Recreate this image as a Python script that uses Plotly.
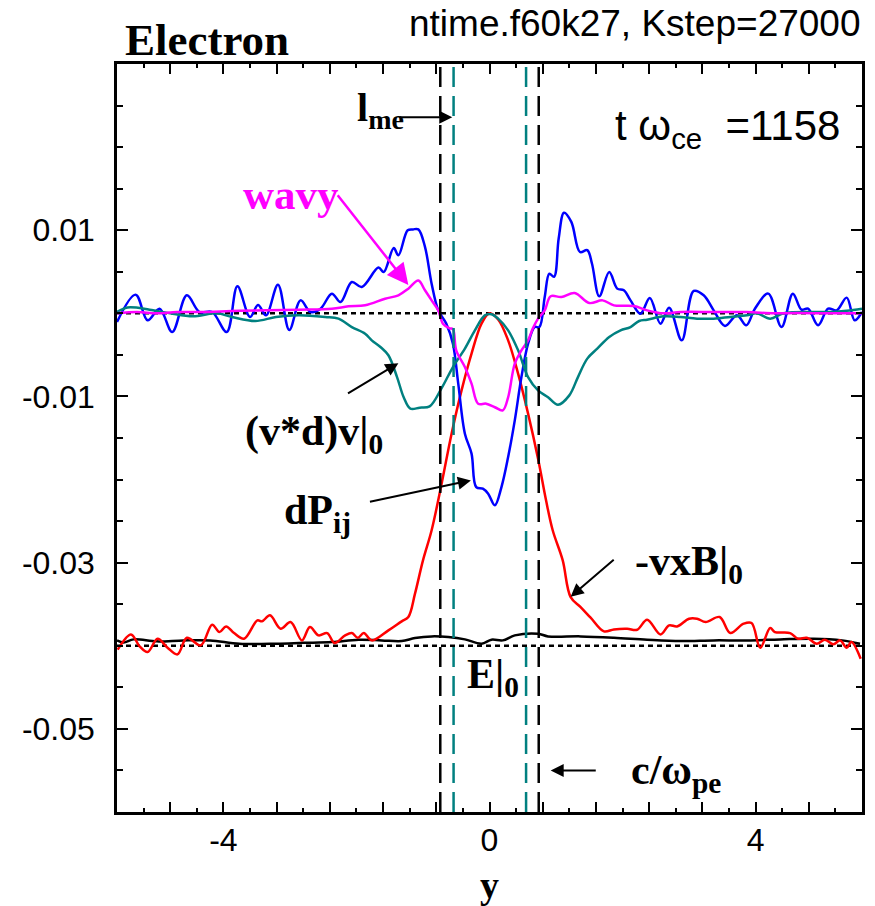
import numpy as np
import plotly.graph_objects as go

# ---- profiles across the current sheet (electron momentum balance terms) ----
x_dp = [-5.60, -5.32, -5.14, -4.96, -4.77, -4.55, -4.36, -4.17, -3.95, -3.79, -3.60, -3.48,
        -3.36, -3.18, -3.01, -2.84, -2.69, -2.54, -2.37, -2.24, -2.07, -1.92, -1.67, -1.59,
        -1.44, -1.37, -1.23, -1.15, -1.07, -0.97, -0.87, -0.77, -0.65, -0.55, -0.47, -0.37,
        -0.27, -0.20, -0.10, -0.02, 0.08, 0.18, 0.28, 0.38, 0.48, 0.58, 0.68, 0.75, 0.83,
        0.90, 0.97, 1.04, 1.12, 1.23, 1.36, 1.47, 1.54, 1.65, 1.80, 1.92, 2.02, 2.12, 2.27,
        2.41, 2.57, 2.70, 2.89, 3.07, 3.22, 3.37, 3.54, 3.72, 3.86, 3.99, 4.19, 4.39, 4.56,
        4.69, 4.79, 4.94, 5.09, 5.22, 5.37, 5.49, 5.60]
dP_ij = [-0.00105, 0.00225, -0.00084, 0.00056, -0.00225, 0.00217, 0.00016, 0.00016, -0.00225,
         0.00325, -0.00044, 0.00100, -0.00024, 0.00345, -0.00200, 0.00156, 0.00016, 0.00056,
         0.00237, 0.00136, 0.00377, 0.00317, 0.00550, 0.00497, 0.00786, 0.00698, 0.00999,
         0.01010, 0.01010, 0.00800, 0.00357, 0.00036, -0.00124, -0.00365, -0.00846, -0.01448,
         -0.01688, -0.02090, -0.02110, -0.02170, -0.02310, -0.02090, -0.01730, -0.01288,
         -0.00767, -0.00365, -0.00165, -0.00165, 0.00196, 0.00477, 0.00440, 0.00900, 0.01210,
         0.01100, 0.00738, 0.00760, 0.00600, 0.00205, 0.00497, 0.00297, 0.00277, 0.00156,
         -0.00004, 0.00184, -0.00124, 0.00068, -0.00325, 0.00269, 0.00217, 0.00036, -0.00152,
         -0.00024, -0.00144, 0.00056, 0.00237, -0.00165, 0.00237, 0.00044, 0.00056, -0.00144,
         0.00056, 0.00036, 0.00189, -0.00084, 0.00016]

x_wavy = [-5.60, -5.30, -5.00, -4.70, -4.36, -3.76, -2.87, -2.37, -2.12, -1.87, -1.57, -1.37,
          -1.22, -1.07, -0.97, -0.87, -0.77, -0.70, -0.60, -0.55, -0.50, -0.37, -0.27, -0.17,
          -0.05, 0.08, 0.20, 0.28, 0.38, 0.48, 0.58, 0.65, 0.73, 0.83, 0.92, 1.08, 1.28, 1.50,
          1.70, 1.87, 2.17, 2.37, 2.62, 2.87, 3.37, 3.87, 4.27, 4.62, 5.12, 5.60]
wavy = [0.0, 0.00016, 0.0, 0.00016, 0.00016, 0.00030, 0.00044, 0.00056, 0.00084, 0.00096,
        0.00176, 0.00217, 0.00297, 0.00395, 0.00277, 0.00156, 0.00036, -0.00124, -0.00180,
        -0.00190, -0.00445, -0.00646, -0.00846, -0.01087, -0.01087, -0.01130, -0.01167,
        -0.01010, -0.00605, -0.00445, -0.00325, -0.00184, -0.00064, 0.00036, 0.00205, 0.00196,
        0.00245, 0.00124, 0.00156, 0.00096, 0.00088, 0.00036, 0.0, 0.00016, 0.00016, 0.00016,
        0.0, 0.00004, 0.0, 0.0]

x_vdv = [-5.60, -5.44, -5.11, -4.80, -4.46, -4.10, -3.87, -3.52, -3.21, -2.87, -2.47, -2.27,
         -2.07, -1.87, -1.77, -1.64, -1.52, -1.39, -1.29, -1.19, -1.05, -0.90, -0.72, -0.55,
         -0.37, -0.22, -0.07, 0.03, 0.13, 0.28, 0.43, 0.58, 0.73, 0.88, 1.03, 1.20, 1.33, 1.47,
         1.62, 1.80, 1.97, 2.12, 2.25, 2.37, 2.62, 2.87, 3.12, 3.37, 3.62, 3.87, 4.02, 4.22,
         4.42, 4.87, 5.12, 5.37, 5.60]
vdv = [0.00016, 0.00070, 0.00044, 0.0, -0.00036, 0.0, -0.00044, -0.00092, -0.00044, -0.00024,
       -0.00044, -0.00064, -0.00165, -0.00245, -0.00325, -0.00405, -0.00505, -0.00767, -0.01010,
       -0.01147, -0.01135, -0.01120, -0.00900, -0.00646, -0.00425, -0.00205, -0.00024, -0.00010,
       -0.00064, -0.00205, -0.00445, -0.00767, -0.00927, -0.01010, -0.01100, -0.00987, -0.00767,
       -0.00545, -0.00425, -0.00285, -0.00205, -0.00165, -0.00092, -0.00076, -0.00036, -0.00044,
       -0.00064, -0.00064, -0.00044, -0.00024, 0.0, -0.00064, 0.0, 0.00016, 0.00016, 0.00030,
       0.00056]

x_vxb = [-5.59, -5.39, -5.26, -5.14, -4.99, -4.84, -4.69, -4.55, -4.34, -4.17, -4.06, -3.96,
         -3.84, -3.69, -3.49, -3.42, -3.30, -3.14, -2.99, -2.82, -2.70, -2.57, -2.44, -2.33,
         -2.17, -2.07, -1.98, -1.89, -1.77, -1.52, -1.32, -1.22, -1.12, -1.00, -0.87, -0.72,
         -0.57, -0.42, -0.27, -0.12, 0.0, 0.13, 0.28, 0.43, 0.58, 0.73, 0.85, 0.95, 1.10, 1.22,
         1.37, 1.52, 1.72, 1.87, 2.07, 2.22, 2.37, 2.57, 2.70, 2.82, 3.00, 3.12, 3.25, 3.46,
         3.62, 3.82, 3.94, 4.07, 4.22, 4.29, 4.52, 4.64, 4.77, 4.92, 5.04, 5.17, 5.27, 5.37,
         5.44, 5.58]
vxB = [-0.04047, -0.03863, -0.04007, -0.04076, -0.03915, -0.04023, -0.04103, -0.03903, -0.03995,
       -0.03746, -0.03835, -0.03767, -0.03847, -0.03915, -0.03694, -0.03706, -0.03634, -0.03794,
       -0.03714, -0.03935, -0.03775, -0.03875, -0.03847, -0.03967, -0.03875, -0.03847, -0.03903,
       -0.03847, -0.03935, -0.03815, -0.03706, -0.03654, -0.03373, -0.02972, -0.02610, -0.02050,
       -0.01448, -0.00927, -0.00485, -0.00124, 0.0, -0.00074, -0.00325, -0.00726, -0.01207,
       -0.01750, -0.02250, -0.02610, -0.02970, -0.03414, -0.03534, -0.03662, -0.03827, -0.03803,
       -0.03795, -0.03807, -0.03686, -0.03863, -0.03754, -0.03767, -0.03674, -0.03674, -0.03714,
       -0.03654, -0.03847, -0.03734, -0.03726, -0.04023, -0.03787, -0.03835, -0.03847, -0.03915,
       -0.03903, -0.03975, -0.03927, -0.03983, -0.03935, -0.04023, -0.03955, -0.04155]

x_e = [-5.60, -5.50, -5.35, -5.00, -4.60, -4.20, -3.76, -3.20, -2.80, -2.37, -1.97, -1.62,
       -1.32, -1.12, -0.87, -0.62, -0.37, -0.12, 0.03, 0.20, 0.38, 0.73, 0.88, 1.37, 1.87, 2.37,
       2.87, 3.37, 3.87, 4.37, 4.87, 5.30, 5.57]
E0 = [-0.03935, -0.03960, -0.03923, -0.03947, -0.03935, -0.03935, -0.03975, -0.03975, -0.03965,
      -0.03955, -0.03927, -0.03935, -0.03943, -0.03907, -0.03887, -0.03895, -0.03923, -0.03975,
      -0.03927, -0.03935, -0.03875, -0.03855, -0.03887, -0.03887, -0.03903, -0.03927, -0.03943,
      -0.03935, -0.03935, -0.03923, -0.03915, -0.03935, -0.03975]

# reference levels and characteristic scales
zero_levels = [0.0, -0.04]
c_over_wpe = [-0.74, 0.74]
l_me = [-0.54, 0.55]

x_range = [-5.6, 5.6]
y_range = [-0.06, 0.03]
y_tickvals = [0.01, -0.01, -0.03, -0.05]
y_ticktext = ["0.01", "-0.01", "-0.03", "-0.05"]
x_labels = {-4.0: "-4", 0.0: "0", 4.0: "4"}

SANS = "Liberation Sans, Arial, sans-serif"
SERIF = "Liberation Serif, Times New Roman, serif"
TEAL = "#008080"

fig = go.Figure()

for lvl in zero_levels:
    fig.add_trace(go.Scatter(x=x_range, y=[lvl, lvl], mode="lines",
                             line=dict(color="black", width=2.5, dash="5px,4px"),
                             hoverinfo="skip"))

curves = [
    (x_e, E0, "black"),
    (x_vxb, vxB, "#ff0000"),
    (x_dp, dP_ij, "#0000ff"),
    (x_vdv, vdv, TEAL),
    (x_wavy, wavy, "#ff00ff"),
]
for xs, ys, col in curves:
    fig.add_trace(go.Scatter(x=xs, y=ys, mode="lines",
                             line=dict(color=col, width=2.5, shape="spline", smoothing=1.0),
                             hoverinfo="skip"))

for xv in c_over_wpe:
    fig.add_trace(go.Scatter(x=[xv, xv], y=y_range, mode="lines",
                             line=dict(color="black", width=2.5, dash="20px,9px"),
                             hoverinfo="skip"))
for xv in l_me:
    fig.add_trace(go.Scatter(x=[xv, xv], y=y_range, mode="lines",
                             line=dict(color=TEAL, width=2.5, dash="20px,9px"),
                             hoverinfo="skip"))

# x ticks every 0.8 (labelled only at -4, 0, 4) with minor ticks every 0.4
x_major = [round(-4.8 + 0.8 * i, 1) for i in range(13)]
x_text = [x_labels.get(v, "") for v in x_major]

fig.update_xaxes(range=x_range, showgrid=False, zeroline=False,
                 showline=True, linecolor="black", linewidth=2.5, mirror="allticks",
                 ticks="inside", ticklen=10, tickwidth=2, tickcolor="black",
                 tickvals=x_major, ticktext=x_text,
                 tickfont=dict(family=SANS, size=32, color="black"),
                 ticklabelstandoff=-2,
                 minor=dict(dtick=0.4, tick0=0, ticks="inside", ticklen=4,
                            tickwidth=2, tickcolor="black"))
fig.update_yaxes(range=y_range, showgrid=False, zeroline=False,
                 showline=True, linecolor="black", linewidth=2.5, mirror="allticks",
                 ticks="inside", ticklen=11, tickwidth=2, tickcolor="black",
                 tickvals=y_tickvals, ticktext=y_ticktext,
                 tickfont=dict(family=SANS, size=32, color="black"),
                 ticklabelstandoff=13,
                 minor=dict(dtick=0.005, tick0=0, ticks="inside", ticklen=6,
                            tickwidth=2, tickcolor="black"))

ann = []


def label(txt, x, y, size=42, color="black", family=SERIF, xanchor="left", bold=True, **kw):
    ann.append(dict(text=f"<b>{txt}</b>" if bold else txt, x=x, y=y, showarrow=False,
                    xanchor=xanchor, yanchor="middle",
                    font=dict(family=family, size=size, color=color), **kw))


def arrow(x0, y0, x1, y1, color="black", size=1.3, width=2):
    ann.append(dict(text="", x=x1, y=y1, ax=x0, ay=y0, axref="x", ayref="y",
                    xref="x", yref="y", showarrow=True, arrowhead=2,
                    arrowsize=size, arrowwidth=width, arrowcolor=color, standoff=0))


label("l<sub>me</sub>", -2.02, 0.0245, size=40)
arrow(-1.37, 0.0236, -0.56, 0.0236)

label("wavy", -3.73, 0.0143, size=43, color="#ff00ff")
arrow(-2.30, 0.0144, -1.22, 0.0034, color="#ff00ff", size=1.7, width=2.5)

label("(v*d)v|<sub>0</sub>", -3.70, -0.0145)
arrow(-2.15, -0.00975, -1.37, -0.0060)

label("dP<sub>ij</sub>", -3.12, -0.0240)
arrow(-1.82, -0.0227, -0.28, -0.0201)

label("-vxB|<sub>0</sub>", 2.15, -0.0302)
arrow(1.89, -0.0295, 1.22, -0.0341)

label("E|<sub>0</sub>", -0.37, -0.0437)

label("c/ω<sub>pe</sub>", 2.10, -0.0553)
arrow(1.62, -0.0550, 0.92, -0.0550)

label("t ω<sub>ce</sub>  =1158", 1.85, 0.0222, size=42, family=SANS, bold=False)

# text outside the frame
ann.append(dict(text="ntime.f60k27, Kstep=27000", xref="paper", yref="paper",
                x=1.002, y=1.054, xanchor="right", yanchor="middle", showarrow=False,
                font=dict(family=SANS, size=37, color="black")))
ann.append(dict(text="<b>Electron</b>", xref="paper", yref="paper",
                x=0.008, y=1.032, xanchor="left", yanchor="middle", showarrow=False,
                font=dict(family=SERIF, size=45, color="black")))
ann.append(dict(text="<b>y</b>", xref="paper", yref="paper",
                x=0.5, y=-0.097, xanchor="center", yanchor="middle", showarrow=False,
                font=dict(family=SERIF, size=38, color="black")))

fig.update_layout(width=875, height=906, autosize=False,
                  margin=dict(l=117, r=10, t=64, b=94),
                  paper_bgcolor="white", plot_bgcolor="white",
                  showlegend=False, annotations=ann)

fig.write_html("out.html")
